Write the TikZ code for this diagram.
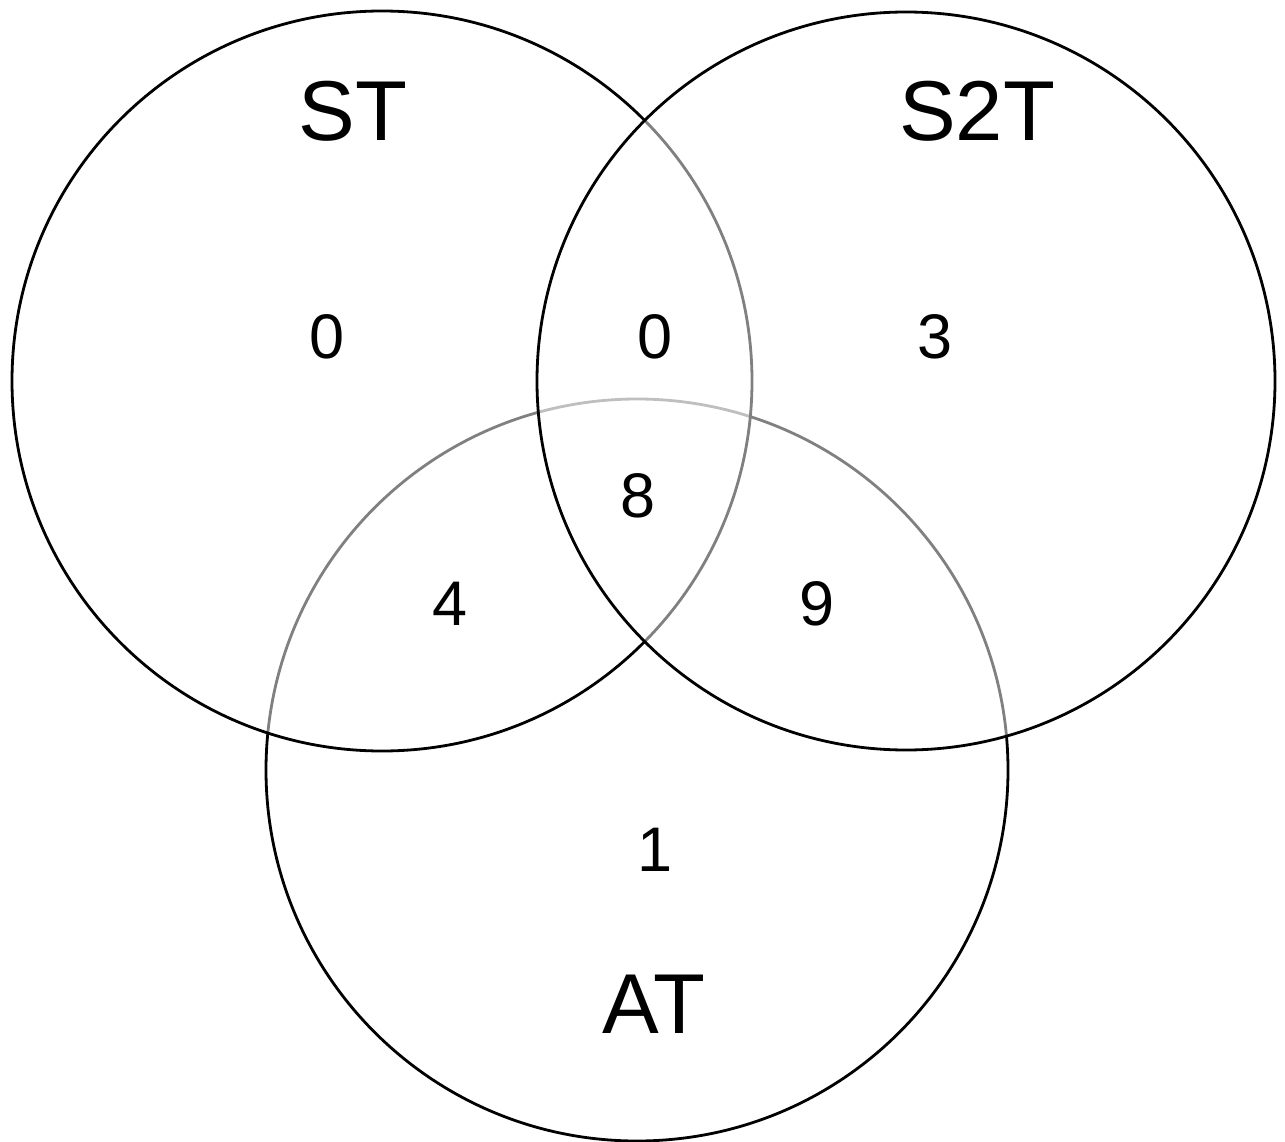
\documentclass[tikz,border=0pt]{standalone}
\usepackage{fontspec}
\setmainfont{Liberation Sans}
\begin{document}
\begin{tikzpicture}[x=1pt,y=-1pt,
  setc/.style={draw=black,line width=2.8pt,fill=white,fill opacity=0.5},
  lbl/.style={font=\fontsize{85}{100}\selectfont,inner sep=0pt},
  num/.style={font=\fontsize{63}{70}\selectfont,inner sep=0pt}]
\useasboundingbox (0,0) rectangle (1285,1142);
\fill[white] (0,0) rectangle (1285,1142);
\draw[setc] (637,770) circle (371);
\draw[setc] (382,381) circle (370);
\draw[setc] (906,381) circle (369);
\node[lbl] (st) at (353,111) {ST};
\node[lbl] (s2t) at (977,111) {S2T};
\node[lbl] (at) at (654,1004) {AT};
\node[num] (n1) at (327,337) {0};
\node[num] (n2) at (655,337) {0};
\node[num] (n3) at (935,337) {3};
\node[num] (n4) at (638,496) {8};
\node[num] (n5) at (450,604) {4};
\node[num] (n6) at (817,604) {9};
\node[num] (n7) at (655,850) {1};
\end{tikzpicture}
\end{document}
